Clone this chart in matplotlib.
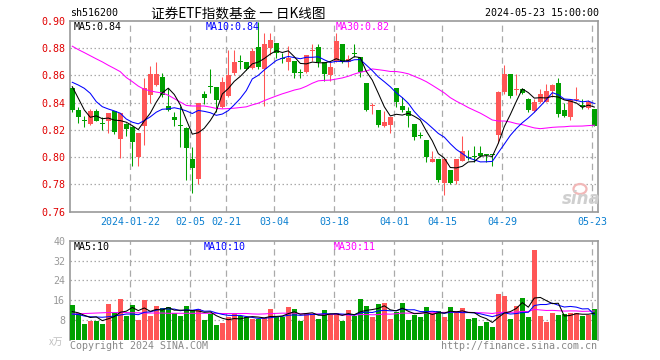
import matplotlib
matplotlib.use('Agg')
import matplotlib.pyplot as plt
import matplotlib.patches as mpatches
import numpy as np

# ---------------- data ----------------
opens = [0.8506, 0.8347, 0.8267, 0.8244, 0.8340, 0.8243, 0.8269, 0.8340, 0.8137, 0.8244,
         0.8225, 0.8004, 0.8232, 0.8457, 0.8531, 0.8590, 0.8376, 0.8296, 0.8233, 0.8212,
         0.7990, 0.7840, 0.8465, 0.8515, 0.8516, 0.8366, 0.8452, 0.8621, 0.8698, 0.8697,
         0.8653, 0.8812, 0.8648, 0.8800, 0.8836, 0.8720, 0.8702, 0.8709, 0.8617, 0.8629,
         0.8782, 0.8807, 0.8702, 0.8604, 0.8709, 0.8832, 0.8697, 0.8759, 0.8734, 0.8543,
         0.8375, 0.8347, 0.8232, 0.8237, 0.8506, 0.8376, 0.8340, 0.8244, 0.8160, 0.8127,
         0.7963, 0.7985, 0.7810, 0.7909, 0.7828, 0.7975, 0.8000, 0.8001, 0.8031, 0.8015,
         0.8015, 0.8161, 0.8480, 0.8610, 0.8493, 0.8500, 0.8428, 0.8339, 0.8408, 0.8408,
         0.8486, 0.8545, 0.8347, 0.8293, 0.8417, 0.8386, 0.8358, 0.8356]
closes = [0.8347, 0.8298, 0.8265, 0.8340, 0.8269, 0.8241, 0.8323, 0.8188, 0.8323, 0.8210,
          0.8115, 0.8176, 0.8506, 0.8612, 0.8612, 0.8457, 0.8347, 0.8274, 0.8231, 0.8070,
          0.7924, 0.8401, 0.8438, 0.8513, 0.8420, 0.8550, 0.8600, 0.8702, 0.8696, 0.8646,
          0.8783, 0.8665, 0.8832, 0.8861, 0.8768, 0.8718, 0.8726, 0.8616, 0.8615, 0.8751,
          0.8784, 0.8702, 0.8611, 0.8665, 0.8854, 0.8697, 0.8719, 0.8757, 0.8629, 0.8347,
          0.8377, 0.8237, 0.8261, 0.8293, 0.8408, 0.8347, 0.8303, 0.8151, 0.8158, 0.8004,
          0.7985, 0.7833, 0.7989, 0.7811, 0.7989, 0.8044, 0.7995, 0.7999, 0.8007, 0.8013,
          0.8013, 0.8480, 0.8610, 0.8450, 0.8495, 0.8470, 0.8347, 0.8408, 0.8464, 0.8486,
          0.8530, 0.8320, 0.8303, 0.8420, 0.8419, 0.8367, 0.8403, 0.8232]
highs = [0.8518, 0.8367, 0.8303, 0.8354, 0.8354, 0.8293, 0.8323, 0.8340, 0.8323, 0.8254,
         0.8232, 0.8176, 0.8580, 0.8670, 0.8700, 0.8616, 0.8506, 0.8335, 0.8376, 0.8220,
         0.8072, 0.8401, 0.8489, 0.8648, 0.8516, 0.8592, 0.8788, 0.8788, 0.8751, 0.8697,
         0.8800, 0.8990, 0.8912, 0.8915, 0.8836, 0.8763, 0.8817, 0.8709, 0.8646, 0.8751,
         0.8832, 0.8832, 0.8702, 0.8702, 0.8915, 0.8832, 0.8751, 0.8832, 0.8734, 0.8543,
         0.8400, 0.8347, 0.8342, 0.8293, 0.8506, 0.8445, 0.8367, 0.8244, 0.8188, 0.8127,
         0.8048, 0.7985, 0.7989, 0.7909, 0.7989, 0.8154, 0.8056, 0.8085, 0.8080, 0.8015,
         0.8015, 0.8485, 0.8680, 0.8610, 0.8610, 0.8505, 0.8435, 0.8430, 0.8500, 0.8538,
         0.8538, 0.8580, 0.8396, 0.8420, 0.8515, 0.8425, 0.8418, 0.8356]
lows = [0.8335, 0.8254, 0.8225, 0.8237, 0.8264, 0.8200, 0.8180, 0.8170, 0.7997, 0.8156,
        0.7939, 0.7939, 0.8090, 0.8400, 0.8523, 0.8445, 0.8340, 0.8232, 0.8072, 0.7833,
        0.7735, 0.7803, 0.8389, 0.8474, 0.8335, 0.8359, 0.8445, 0.8604, 0.8646, 0.8641,
        0.8646, 0.8646, 0.8378, 0.8751, 0.8726, 0.8690, 0.8641, 0.8579, 0.8579, 0.8621,
        0.8709, 0.8665, 0.8562, 0.8562, 0.8702, 0.8690, 0.8660, 0.8734, 0.8592, 0.8339,
        0.8318, 0.8225, 0.8225, 0.8180, 0.8372, 0.8335, 0.8224, 0.8127, 0.8139, 0.7968,
        0.7963, 0.7821, 0.7725, 0.7803, 0.7800, 0.7970, 0.7982, 0.7965, 0.8000, 0.7965,
        0.7933, 0.8104, 0.8467, 0.8435, 0.8460, 0.8465, 0.8335, 0.8334, 0.8396, 0.8403,
        0.8443, 0.8298, 0.8295, 0.8276, 0.8413, 0.8351, 0.8352, 0.8228]
volumes = [14.0, 10.7, 6.4, 7.6, 7.6, 6.4, 14.4, 10.7, 16.5, 9.7,
           14.0, 8.0, 16.1, 9.6, 13.6, 12.7, 13.2, 10.7, 9.6, 13.6,
           12.0, 12.3, 8.0, 10.4, 6.0, 6.8, 9.3, 10.4, 9.6, 9.1,
           8.4, 8.4, 8.7, 12.4, 9.3, 9.2, 13.2, 12.4, 7.6, 10.7,
           10.6, 8.4, 12.0, 10.6, 10.7, 7.6, 12.0, 9.7, 16.5, 13.6,
           9.2, 14.4, 14.9, 8.4, 11.4, 14.9, 8.0, 10.0, 9.2, 13.2,
           10.7, 11.6, 9.2, 13.2, 11.6, 12.8, 8.4, 8.8, 5.5, 7.2,
           5.1, 18.5, 17.7, 8.4, 13.6, 16.9, 9.2, 36.2, 9.6, 7.2,
           10.8, 10.0, 10.4, 10.8, 10.8, 9.6, 10.0, 12.4]

# moving-average values before enough in-window history exists
ma5_head = [0.8518, 0.8433, 0.8347, 0.8293]
ma10_head = [0.8550, 0.8530, 0.8506, 0.8469, 0.8408, 0.8371, 0.8354, 0.8340, 0.8323]
ma30_head = [0.8815, 0.8790, 0.8768, 0.8745, 0.8722, 0.8700, 0.8675, 0.8652, 0.8628, 0.8585,
             0.8555, 0.8522, 0.8498, 0.8487, 0.8478, 0.8472, 0.8455, 0.8430, 0.8405, 0.8380,
             0.8376, 0.8376, 0.8376, 0.8368, 0.8358, 0.8355, 0.8357, 0.8360, 0.8365]
vma5_head = [11.4, 10.9, 9.9, 9.0]
vma10_head = [10.4, 10.2, 9.6, 9.3, 9.2, 9.1, 9.3, 9.6, 10.0]
vma30_head = [10.4, 10.5, 10.6, 10.7, 10.8, 10.9, 11.0, 11.0, 11.0, 11.0,
              10.9, 10.9, 10.8, 10.8, 10.8, 10.8, 10.7, 10.7, 10.7, 10.7,
              10.7, 10.7, 10.7, 10.7, 10.7, 10.6, 10.6, 10.6, 10.6]

tick_idx = [10, 20, 26, 34, 44, 54, 62, 72, 87]
tick_labels = ['2024-01-22', '02-05', '02-21', '03-04', '03-18', '04-01', '04-15', '04-29', '05-23']
price_ticks = [0.76, 0.78, 0.80, 0.82, 0.84, 0.86, 0.88, 0.90]
vol_ticks = [8, 16, 24, 32, 40]

code = 'sh516200'
title = '证券ETF指数基金 一 日K线图'
stamp = '2024-05-23 15:00:00'


def rolling(vals, n, head):
    out = list(head)
    for i in range(len(head), len(vals)):
        out.append(float(np.mean(vals[i - n + 1:i + 1])))
    return np.array(out)


ma5 = rolling(closes, 5, ma5_head)
ma10 = rolling(closes, 10, ma10_head)
ma30 = rolling(closes, 30, ma30_head)
vma5 = rolling(volumes, 5, vma5_head)
vma10 = rolling(volumes, 10, vma10_head)
vma30 = rolling(volumes, 30, vma30_head)

# ---------------- style ----------------
W, H = 660, 360
RED = '#ff5656'
GREEN = '#00a000'
GRID = '#aaaaaa'
SPINE = '#999999'
MONO = 'DejaVu Sans Mono'
CJK = ['Noto Sans CJK SC', 'DejaVu Sans']
LW = 0.75

fig = plt.figure(figsize=(6.6, 3.6), dpi=100)
fig.patch.set_facecolor('white')

L, R = 70, 597.5
ax1 = fig.add_axes([L / W, 1 - 211.7 / H, (R - L) / W, (211.7 - 21) / H])
ax2 = fig.add_axes([L / W, 1 - 339.8 / H, (R - L) / W, (339.8 - 240.7) / H])

n = len(closes)
x = np.arange(n)
xmin, xmax = -0.38, 87.53
grid_x = [t - 0.38 for t in tick_idx]

ohlc_colors = [RED if c > o else GREEN for o, c in zip(opens, closes)]

for ax in (ax1, ax2):
    ax.set_xlim(xmin, xmax)
    for gx in grid_x:
        ax.axvline(gx, color=GRID, lw=0.9, ls=(0, (5, 3.5)), zorder=0)

# price panel
ax1.set_ylim(0.76, 0.90)
for yv in price_ticks[1:-1]:
    ax1.axhline(yv, color=GRID, lw=0.9, ls=(0, (1.2, 2.0)), zorder=0)

ax1.vlines(x, lows, highs, colors=ohlc_colors, lw=LW, zorder=2)
body_bottom = [min(o, c) for o, c in zip(opens, closes)]
body_h = [max(abs(c - o), 0.0008) for o, c in zip(opens, closes)]
ax1.bar(x, body_h, bottom=body_bottom, width=0.8, color=ohlc_colors, lw=0, zorder=3)

ax1.plot(x, ma30, color='#ff00ff', lw=LW, zorder=4)
ax1.plot(x, ma10, color='#0000ff', lw=LW, zorder=4)
ax1.plot(x, ma5, color='black', lw=LW, zorder=5)

ax1.set_yticks(price_ticks)
ax1.set_yticklabels(['%.2f' % v for v in price_ticks], color='#e00000', fontsize=7.2, family=MONO)
ax1.set_xticks(grid_x)
ax1.set_xticklabels(tick_labels, color='#0a7fd0', fontsize=7.2, family=MONO)
ax1.tick_params(length=0, pad=3.5)

# volume panel
ax2.set_ylim(0, 40)
for yv in vol_ticks[:-1]:
    ax2.axhline(yv, color=GRID, lw=0.9, ls=(0, (1.2, 2.0)), zorder=0)
ax2.bar(x, volumes, width=0.8, color=ohlc_colors, lw=0, zorder=3)
ax2.plot(x, vma30, color='#ff00ff', lw=LW, zorder=4)
ax2.plot(x, vma10, color='#0000ff', lw=LW, zorder=4)
ax2.plot(x, vma5, color='black', lw=LW, zorder=5)
ax2.set_yticks(vol_ticks)
ax2.set_yticklabels([str(v) for v in vol_ticks], color='#999999', fontsize=7.2, family=MONO)
ax2.set_xticks([])
ax2.tick_params(length=0, pad=3.5)

for ax in (ax1, ax2):
    for s in ax.spines.values():
        s.set_color(SPINE)
        s.set_linewidth(1.2)
ax2.spines['bottom'].set_visible(False)


def ftext(px, py, s, **kw):
    fig.text(px / W, 1 - py / H, s, **kw)


# header
ftext(70, 13, code, ha='left', va='center', fontsize=7.2, family=MONO, color='black')
ftext(238, 13, title, ha='center', va='center', fontsize=9.8, family=CJK, color='black')
ftext(599, 13, stamp, ha='right', va='center', fontsize=7.2, family=MONO, color='black')

# MA labels (price)
ftext(74, 26.5, 'MA5:%.2f' % ma5[-1], ha='left', va='center', fontsize=7.2, family=MONO, color='black')
ftext(206, 26.5, 'MA10:%.2f' % ma10[-1], ha='left', va='center', fontsize=7.2, family=MONO, color='#0000ff')
ftext(336, 26.5, 'MA30:%.2f' % ma30[-1], ha='left', va='center', fontsize=7.2, family=MONO, color='#ff00ff')

# MA labels (volume)
ftext(74, 246.7, 'MA5:%d' % int(vma5[-1]), ha='left', va='center', fontsize=7.2, family=MONO, color='black')
ftext(204, 246.7, 'MA10:%d' % int(vma10[-1]), ha='left', va='center', fontsize=7.2, family=MONO, color='#0000ff')
ftext(334, 246.7, 'MA30:%d' % int(vma30[-1]), ha='left', va='center', fontsize=7.2, family=MONO, color='#ff00ff')

# footer
ftext(63, 342, 'x万', ha='right', va='center', fontsize=7, family=CJK, color='#c0c0c0')
ftext(70, 346, 'Copyright 2024 SINA.COM', ha='left', va='center', fontsize=7.2, family=MONO, color='#888888')
ftext(597, 346, 'http://finance.sina.com.cn', ha='right', va='center', fontsize=7.2, family=MONO, color='#888888')

# sina watermark
fig.add_artist(mpatches.Ellipse((580 / W, 1 - 189 / H), 13 / W, 10 / H, transform=fig.transFigure,
                                fill=False, ec='#f2b8b8', lw=1.6, zorder=1))
ftext(581, 199, 'sina', ha='center', va='center', fontsize=12, style='italic', weight='bold',
      family='DejaVu Sans', color='#cfcfcf', zorder=1)

fig.savefig('out.png', dpi=100, facecolor='white')
